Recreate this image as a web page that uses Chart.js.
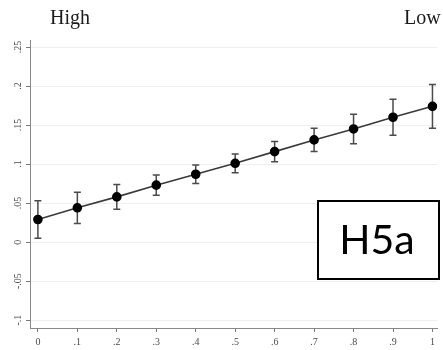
<!DOCTYPE html>
<html>
<head>
<meta charset="utf-8">
<script src="https://cdn.jsdelivr.net/npm/chart.js@4"></script>
<style>
  html, body { margin: 0; padding: 0; background: #fff; }
  canvas { display: block; }
</style>
</head>
<body>
<canvas id="marginsChart" width="443" height="350"></canvas>
<script>
// x positions (share) and estimated effect with 95% CI
const xValues = [0, 0.1, 0.2, 0.3, 0.4, 0.5, 0.6, 0.7, 0.8, 0.9, 1];
const estimates = [0.029, 0.044, 0.058, 0.073, 0.087, 0.101, 0.116, 0.131, 0.145, 0.160, 0.174];
const upperCI = [0.053, 0.064, 0.074, 0.086, 0.099, 0.113, 0.129, 0.146, 0.164, 0.183, 0.202];
const lowerCI = [0.005, 0.024, 0.042, 0.060, 0.075, 0.089, 0.103, 0.116, 0.126, 0.137, 0.146];

const xTickValues = [0, 0.1, 0.2, 0.3, 0.4, 0.5, 0.6, 0.7, 0.8, 0.9, 1];
const xTickLabels = ['0', '.1', '.2', '.3', '.4', '.5', '.6', '.7', '.8', '.9', '1'];
const yTickValues = [-0.1, -0.05, 0, 0.05, 0.1, 0.15, 0.2, 0.25];
const yTickLabels = ['-.1', '-.05', '0', '.05', '.1', '.15', '.2', '.25'];

const leftLabel = 'High';
const rightLabel = 'Low';
const boxLabel = 'H5a';

const serif = '"Liberation Serif", "DejaVu Serif", serif';

// capped error bars, drawn under the points
const errorBars = {
  id: 'errorBars',
  beforeDatasetsDraw(chart) {
    const { ctx, scales: { x, y } } = chart;
    ctx.save();
    ctx.strokeStyle = '#4a4a4a';
    ctx.lineWidth = 1.5;
    xValues.forEach((v, i) => {
      const px = x.getPixelForValue(v);
      const top = y.getPixelForValue(upperCI[i]);
      const bot = y.getPixelForValue(lowerCI[i]);
      ctx.beginPath();
      ctx.moveTo(px, top);
      ctx.lineTo(px, bot);
      ctx.moveTo(px - 3.5, top);
      ctx.lineTo(px + 3.5, top);
      ctx.moveTo(px - 3.5, bot);
      ctx.lineTo(px + 3.5, bot);
      ctx.stroke();
    });
    ctx.restore();
  }
};

// header words and the boxed tag
const labels = {
  id: 'labels',
  afterDraw(chart) {
    const { ctx } = chart;
    ctx.save();
    ctx.fillStyle = '#1a1a1a';
    ctx.font = '20px ' + serif;
    ctx.textBaseline = 'alphabetic';
    ctx.textAlign = 'center';
    ctx.fillText(leftLabel, 70, 24);
    ctx.textAlign = 'left';
    ctx.fillText(rightLabel, 404, 24);

    ctx.fillStyle = '#fff';
    ctx.fillRect(318, 201, 121, 78);
    ctx.strokeStyle = '#000';
    ctx.lineWidth = 2;
    ctx.strokeRect(318, 201, 121, 78);
    ctx.fillStyle = '#000';
    ctx.font = '41px Lato, "Open Sans", sans-serif';
    ctx.textAlign = 'center';
    ctx.textBaseline = 'middle';
    ctx.fillText(boxLabel, 377, 241);
    ctx.restore();
  }
};

new Chart(document.getElementById('marginsChart'), {
  type: 'line',
  data: {
    datasets: [{
      data: xValues.map((v, i) => ({ x: v, y: estimates[i] })),
      borderColor: '#3a3a3a',
      borderWidth: 1.6,
      pointRadius: 4,
      pointBackgroundColor: '#000',
      pointBorderColor: '#000',
      tension: 0
    }]
  },
  options: {
    responsive: false,
    animation: false,
    layout: { padding: { top: 40, left: 0, right: 0, bottom: 0 } },
    plugins: {
      legend: { display: false },
      tooltip: { enabled: false }
    },
    scales: {
      x: {
        type: 'linear',
        min: -0.02,
        max: 1.0125,
        grid: { drawOnChartArea: false, tickLength: 4, tickColor: '#777' },
        border: { color: '#888', width: 1 },
        afterBuildTicks: (scale) => { scale.ticks = xTickValues.map(v => ({ value: v })); },
        afterFit: (scale) => { scale.height = 22; scale.paddingLeft = 0; scale.paddingRight = 0; },
        ticks: {
          autoSkip: false,
          maxRotation: 0,
          padding: 4,
          color: '#4a4a4a',
          font: { family: serif, size: 10 },
          callback: (v) => xTickLabels[xTickValues.findIndex(t => Math.abs(t - v) < 1e-9)]
        }
      },
      y: {
        min: -0.11,
        max: 0.259,
        grid: { color: '#edf0f0', lineWidth: 1, tickLength: 4, tickColor: '#777' },
        border: { color: '#888', width: 1 },
        afterBuildTicks: (scale) => { scale.ticks = yTickValues.map(v => ({ value: v })); },
        afterFit: (scale) => { scale.width = 30; scale.paddingTop = 0; scale.paddingBottom = 0; },
        ticks: {
          autoSkip: false,
          minRotation: 90,
          maxRotation: 90,
          crossAlign: 'center',
          padding: 0,
          color: '#4a4a4a',
          font: { family: serif, size: 10 },
          callback: (v) => yTickLabels[yTickValues.findIndex(t => Math.abs(t - v) < 1e-9)]
        }
      }
    }
  },
  plugins: [errorBars, labels]
});
</script>
</body>
</html>
